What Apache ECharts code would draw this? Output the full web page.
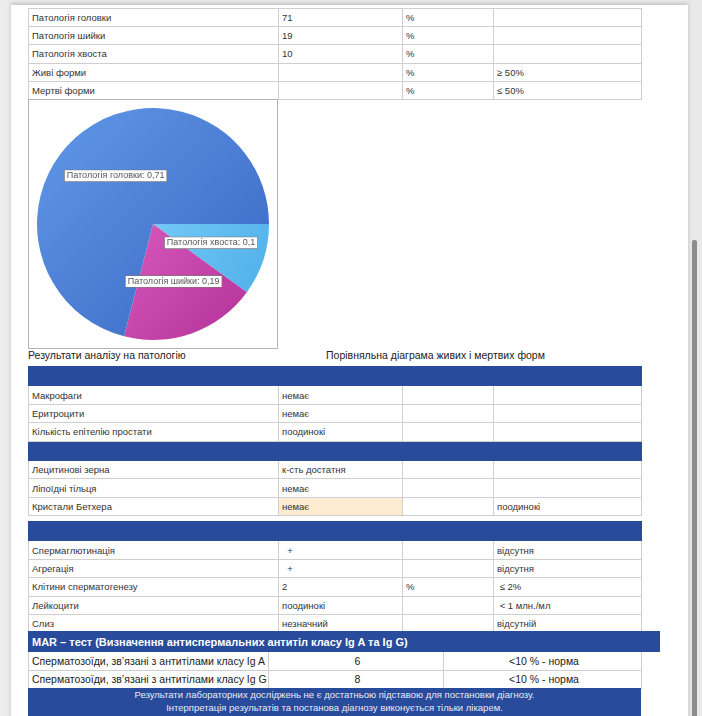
<!DOCTYPE html>
<html>
<head>
<meta charset="utf-8">
<script src="https://cdn.jsdelivr.net/npm/echarts@6/dist/echarts.min.js"></script>
<style>
  html, body { margin: 0; padding: 0; }
  body { width: 702px; height: 716px; overflow: hidden; background: #ececec; position: relative;
         font-family: "Liberation Sans", Arial, sans-serif; color: #333; }
  #page { position: absolute; left: 11px; top: 5px; width: 677px; height: 720px; background: #fff;
          box-shadow: 0 -2px 4px rgba(0,0,0,0.18); }
  #thumb { position: absolute; left: 692px; top: 240px; width: 5px; height: 480px; background: #8d8d8d; border-radius: 2px; }
  #track { position: absolute; left: 688px; top: 0; width: 14px; height: 716px; background: #e9e9e9; }
  table { position: absolute; border-collapse: collapse; table-layout: fixed; font-size: 9.5px; }
  td { border: 1px solid #cfcfcf; padding: 0 0 0 3px; white-space: nowrap; overflow: hidden; }
  tr.blue td { background: #284b9b; border-color: #284b9b; }
  td.peach { background: #fdebd2; }
  .cap { position: absolute; top: 349px; font-size: 10.5px; color: #222; }
  #pieBox { position: absolute; left: 28px; top: 99px; width: 248px; height: 248px; border: 1px solid #b5b5b5; }
  #pie { width: 248px; height: 248px; }
  #mar td { font-size: 10.5px; color: #222; }
  #mar tr.head td { background: #284b9b; color: #fff; font-weight: bold; border-color: #284b9b; font-size: 11px; }
  #foot { position: absolute; left: 28px; top: 688px; width: 613px; height: 30px; background: #284b9b; color: #e8ecf6;
          font-size: 9.5px; text-align: center; line-height: 12.5px; padding-top: 1px; }
</style>
</head>
<body>
<div id="track"></div>
<div id="thumb"></div>
<div id="page"></div>
<table id="t1"></table>
<div id="pieBox"><div id="pie"></div></div>
<div class="cap" style="left:28px">Результати аналізу на патологію</div>
<div class="cap" style="left:326px">Порівняльна діаграма живих і мертвих форм</div>
<table id="t2"></table>
<table id="t3"></table>
<table id="mar"></table>
<div id="foot">Результати лабораторних досліджень не є достатньою підставою для постановки діагнозу.<br>Інтерпретація результатів та постанова діагнозу виконується тільки лікарем.</div>
<script>
// pie data
var pieNames = ['Патологія хвоста', 'Патологія шийки', 'Патологія головки'];
var pieValues = [0.1, 0.19, 0.71];
var pieColors = [['#74c8f5', '#4eb0ea'], ['#d858bc', '#b23299'], ['#6198e8', '#3866c2']];

// table rows: [label, value, unit, norm]; null = blue separator row
var rows1 = [
  ['Патологія головки', '71', '%', ''],
  ['Патологія шийки', '19', '%', ''],
  ['Патологія хвоста', '10', '%', ''],
  ['Живі форми', '', '%', '≥ 50%'],
  ['Мертві форми', '', '%', '≤ 50%']
];
var rows2 = [
  null,
  ['Макрофаги', 'немає', '', ''],
  ['Еритроцити', 'немає', '', ''],
  ['Кількість епітелію простати', 'поодинокі', '', ''],
  null,
  ['Лецитинові зерна', 'к-сть достатня', '', ''],
  ['Ліпоїдні тільця', 'немає', '', ''],
  ['Кристали Бетхера', 'немає', '', 'поодинокі']
];
var rows3 = [
  null,
  ['Спермаглютинація', '  +', '', 'відсутня'],
  ['Агрегація', '  +', '', 'відсутня'],
  ['Клітини сперматогенезу', '2', '%', ' ≤ 2%'],
  ['Лейкоцити', 'поодинокі', '', ' < 1 млн./мл'],
  ['Слиз', 'незначний', '', 'відсутній']
];
var marTitle = 'MAR – тест (Визначення антиспермальних антитіл класу Ig A та Ig G)';
var marRows = [
  ['Сперматозоїди, зв’язані з антитілами класу Ig A', '6', '<10 % - норма'],
  ['Сперматозоїди, зв’язані з антитілами класу Ig G', '8', '<10 % - норма']
];

var colW = [250, 124, 91, 148];

function buildTable(id, top, rows, rowH, peachRow) {
  var t = document.getElementById(id);
  t.style.left = '28px';
  t.style.top = top + 'px';
  t.style.width = '613px';
  var html = '<colgroup>' + colW.map(function (w) { return '<col style="width:' + w + 'px">'; }).join('') + '</colgroup>';
  rows.forEach(function (r, i) {
    if (r === null) {
      html += '<tr class="blue" style="height:' + (rowH + 1) + 'px"><td></td><td></td><td></td><td></td></tr>';
    } else {
      html += '<tr style="height:' + rowH + 'px">' + r.map(function (c, j) {
        var cls = (i === peachRow && j === 1) ? ' class="peach"' : '';
        return '<td' + cls + '>' + c.replace(/ /g, '&nbsp;') + '</td>';
      }).join('') + '</tr>';
    }
  });
  t.innerHTML = html;
}
buildTable('t1', 8, rows1, 18.2);
buildTable('t2', 366, rows2, 18.4, 7);
buildTable('t3', 521, rows3, 18.4);

(function () {
  var t = document.getElementById('mar');
  t.style.left = '28px';
  t.style.top = '631px';
  t.style.width = '631px';
  var html = '<colgroup><col style="width:240px"><col style="width:175px"><col style="width:198px"><col style="width:18px"></colgroup>';
  html += '<tr class="head" style="height:20px"><td colspan="4">' + marTitle + '</td></tr>';
  marRows.forEach(function (r) {
    html += '<tr style="height:18.5px"><td>' + r[0] + '</td><td style="text-align:center">' + r[1] +
      '</td><td style="text-align:center">' + r[2] + '</td><td style="border:none;background:#fff"></td></tr>';
  });
  t.innerHTML = html;
})();

var chartDom = document.getElementById('pie');
var myChart = echarts.init(chartDom);
var option;

option = {
  animation: false,
  series: [
    {
      type: 'pie',
      center: ['50%', '50%'],
      radius: 116,
      startAngle: 0,
      clockwise: true,
      silent: true,
      label: {
        show: true,
        position: 'inside',
        fontFamily: 'Liberation Sans',
        fontSize: 9,
        color: '#555',
        backgroundColor: '#fff',
        borderColor: '#7a7a7a',
        borderWidth: 0.6,
        padding: [1, 2],
        formatter: function (p) {
          return p.name + ': ' + String(p.value).replace('.', ',');
        }
      },
      labelLine: { show: false },
      data: pieNames.map(function (n, i) {
        return {
          name: n,
          value: pieValues[i],
          itemStyle: {
            color: new echarts.graphic.LinearGradient(0, 0, 1, 1, [
              { offset: 0, color: pieColors[i][0] },
              { offset: 1, color: pieColors[i][1] }
            ])
          }
        };
      })
    }
  ]
};

option && myChart.setOption(option);
</script>
</body>
</html>
